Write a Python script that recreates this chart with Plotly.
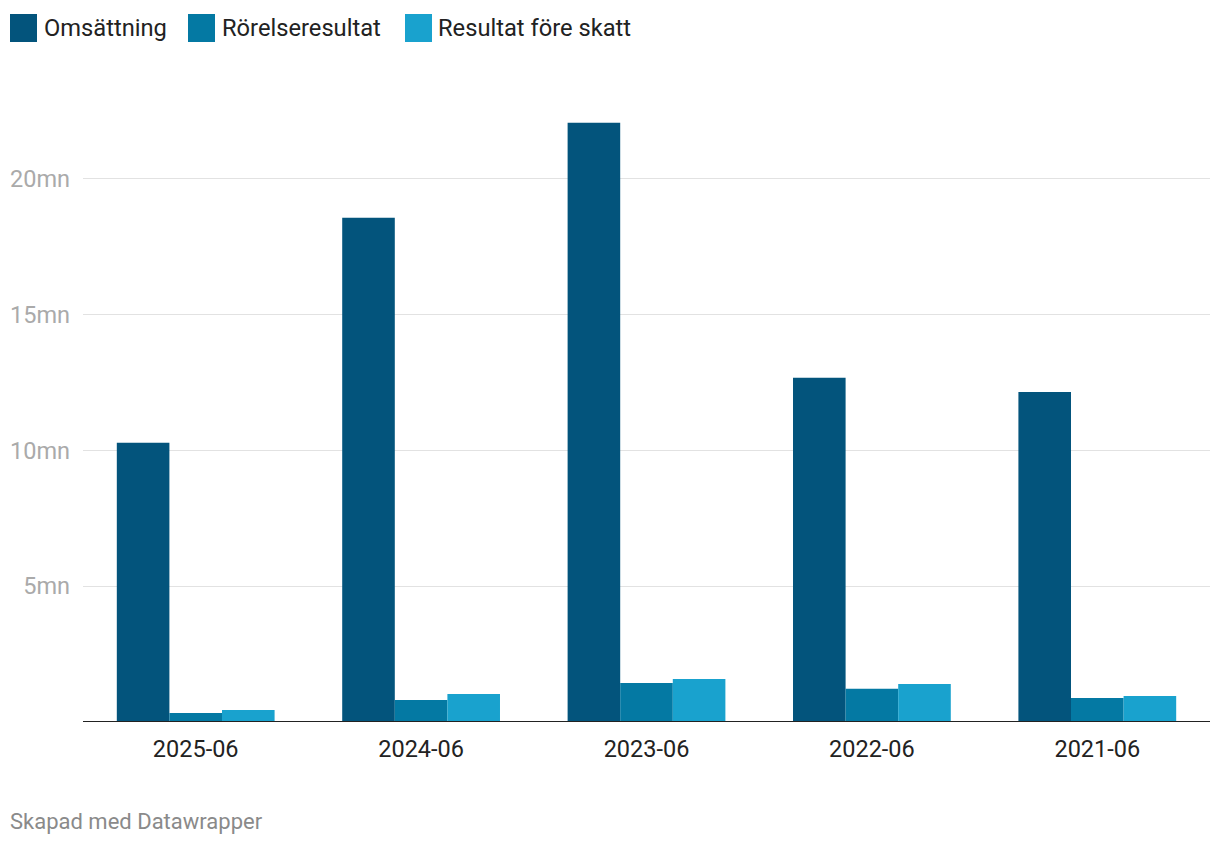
import plotly.graph_objects as go

categories = ["2025-06", "2024-06", "2023-06", "2022-06", "2021-06"]
series_names = ["Omsättning", "Rörelseresultat", "Resultat före skatt"]
omsattning = [10.28, 18.56, 22.06, 12.67, 12.15]
rorelseresultat = [0.33, 0.81, 1.44, 1.22, 0.88]
resultat_fore_skatt = [0.44, 1.03, 1.58, 1.40, 0.96]
y_tick_vals = [5, 10, 15, 20]
y_tick_text = ["5mn", "10mn", "15mn", "20mn"]
colors = ["#03547c", "#0479a3", "#19a2ce"]

# page body has an 8px offset; work in screenshot pixels and convert
OFF = 8
W, H = 1220 - OFF, 844 - OFF
PL, PR, PT, PB = 83, 1210, 119, 722  # plot area in screenshot pixels
L, T = PL - OFF, PT - OFF
R, B = W - (PR - OFF), H - (PB - OFF)
pw, ph = PR - PL, PB - PT

fig = go.Figure()
for name, vals, c in zip(series_names, [omsattning, rorelseresultat, resultat_fore_skatt], colors):
    fig.add_trace(go.Bar(x=categories, y=vals, name=name, marker=dict(color=c, line=dict(width=0)),
                         showlegend=False))

def px_x(p):
    return (p - PL) / pw

def px_y(p):
    return (PB - p) / ph

shapes = []
annotations = []
legend_items = [(10, 44), (188, 222), (405, 438)]
for (sx, tx), name, c in zip(legend_items, series_names, colors):
    shapes.append(dict(type="rect", xref="paper", yref="paper",
                       x0=px_x(sx), x1=px_x(sx + 27), y0=px_y(42), y1=px_y(14),
                       fillcolor=c, line=dict(width=0), layer="above"))
    annotations.append(dict(text=name, xref="paper", yref="paper", x=px_x(tx - 2), y=px_y(28),
                            xanchor="left", yanchor="middle", showarrow=False,
                            font=dict(family="Roboto", size=23.7, color="#222222")))

annotations.append(dict(text="Skapad med Datawrapper", xref="paper", yref="paper",
                        x=px_x(8), y=px_y(821), xanchor="left", yanchor="middle", showarrow=False,
                        font=dict(family="Roboto", size=22, color="#8a8a8a")))

shapes.append(dict(type="line", xref="paper", yref="y", x0=0, x1=1, y0=0, y1=0,
                   line=dict(color="#222222", width=2), layer="above"))

fig.update_layout(
    width=W, height=H,
    margin=dict(l=L, r=R, t=T, b=B, autoexpand=False),
    paper_bgcolor="white", plot_bgcolor="white",
    barmode="group", bargap=0.3, bargroupgap=0,
    font=dict(family="Roboto"),
    shapes=shapes, annotations=annotations,
    xaxis=dict(type="category", showgrid=False, showline=False, zeroline=False, ticks="",
               tickfont=dict(family="Roboto", size=23.5, color="#222222"),
               ticklabelstandoff=10),
    yaxis=dict(range=[0, 22.2], tickvals=y_tick_vals, ticktext=y_tick_text,
               showgrid=True, gridcolor="#e2e2e2", gridwidth=1, zeroline=False, showline=False,
               ticks="", tickfont=dict(family="Roboto", size=23.5, color="#aaaaaa"),
               ticklabelstandoff=12),
)

fig.write_html("out.html")
